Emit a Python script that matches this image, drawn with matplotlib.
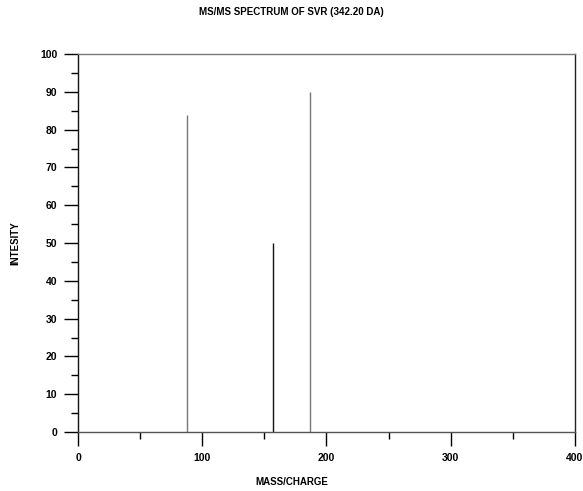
import matplotlib
matplotlib.use('Agg')
import matplotlib.pyplot as plt
from matplotlib.ticker import MultipleLocator

# peaks of the MS/MS spectrum
mz = [88, 157, 187]
intensity = [84, 50, 90]
peak_colors = ['#777777', '#111111', '#777777']

plt.rcParams['font.family'] = ['Liberation Sans', 'DejaVu Sans']
plt.rcParams['font.weight'] = 'bold'

fig = plt.figure(figsize=(5.83, 4.91), dpi=100)
ax = fig.add_axes([0.134, 0.120, 0.852, 0.770])

ax.vlines(mz, 0, intensity, colors=peak_colors, linewidth=1.0)

ax.set_xlim(0, 400)
ax.set_ylim(0, 100)
ax.xaxis.set_major_locator(MultipleLocator(100))
ax.xaxis.set_minor_locator(MultipleLocator(50))
ax.yaxis.set_major_locator(MultipleLocator(10))
ax.yaxis.set_minor_locator(MultipleLocator(5))

ax.tick_params(which='major', direction='out', length=10, width=1, labelsize=7.5)
ax.tick_params(which='minor', direction='out', length=5, width=1)
ax.tick_params(axis='y', which='major', pad=5)
ax.tick_params(axis='x', which='major', pad=5)
for lab in ax.get_xticklabels() + ax.get_yticklabels():
    lab.set_fontweight('bold')

ax.spines['left'].set_color('#111111')
ax.spines['right'].set_color('#222222')
ax.spines['top'].set_color('#777777')
ax.spines['bottom'].set_color('#555555')
for s in ax.spines.values():
    s.set_linewidth(1.0)

fig.text(0.5, 0.975, 'MS/MS SPECTRUM OF SVR (342.20 DA)', ha='center', va='center',
         fontsize=7, fontweight='bold')
fig.text(0.5, 0.018, 'MASS/CHARGE', ha='center', va='center', fontsize=7, fontweight='bold')
fig.text(0.026, 0.505, 'INTESITY', ha='center', va='center', rotation=90,
         fontsize=7, fontweight='bold')

fig.savefig('out.png', dpi=100)
